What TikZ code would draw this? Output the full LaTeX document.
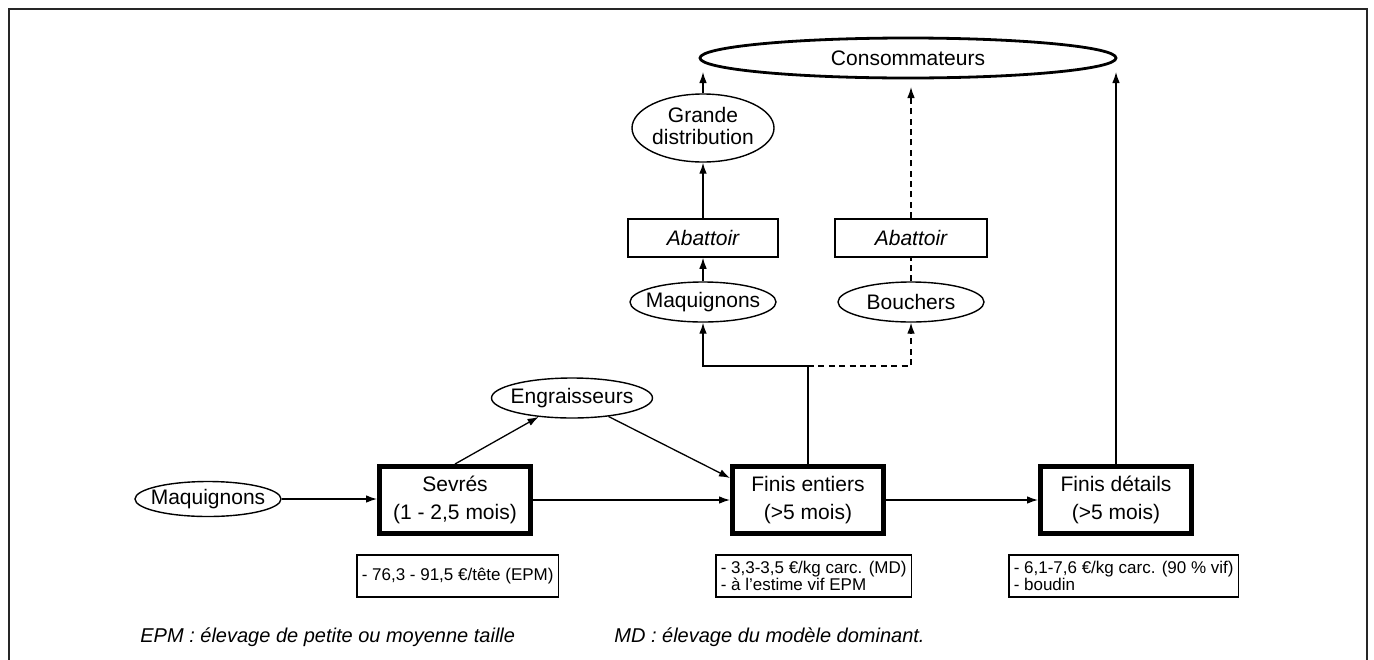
\documentclass[tikz,border=0pt]{standalone}
\usepackage{fontspec}
\setmainfont{Liberation Sans}
\usetikzlibrary{shapes.geometric,arrows.meta}
\begin{document}
\begin{tikzpicture}[x=0.5pt,y=-0.5pt,
  conn/.style={line width=0.65pt,-{Latex[length=5.5pt,width=3.8pt]}},
  plain/.style={line width=0.65pt},
  dsh/.style={dash pattern=on 3pt off 2.2pt},
  oval/.style={ellipse,draw,line width=0.7pt,inner sep=0pt,minimum width=73pt,minimum height=19pt,font=\fontsize{10.5}{12.5}\selectfont},
  mainbox/.style={rectangle,draw,line width=2.5pt,inner sep=0pt,minimum width=75.5pt,minimum height=33.5pt,align=center,font=\fontsize{10.5}{14}\selectfont},
  abbox/.style={rectangle,draw,line width=0.75pt,inner sep=0pt,minimum width=75pt,minimum height=19pt,font=\fontsize{10.5}{12.5}\selectfont\itshape},
  pricebox/.style={rectangle,draw,line width=0.75pt,inner xsep=2.5pt,inner ysep=0pt,minimum height=21pt,align=left,anchor=west,font=\fontsize{8.5}{8.8}\selectfont},
  foot/.style={anchor=west,inner sep=0pt,font=\fontsize{10}{12}\selectfont\itshape}
]
\useasboundingbox (0,0) rectangle (1374,659);
\draw[line width=1pt,black!85] (9,664) -- (9,9) -- (1367,9) -- (1367,664);

% nodes
\node[oval,line width=1.4pt,minimum width=208pt,minimum height=20pt] (cons) at (908,58) {\makebox[0pt]{Consommateurs}};
\node[oval,minimum width=71pt,minimum height=34pt] (gd) at (703,128) {\makebox[0pt]{\begin{tabular}{@{}c@{}}Grande\\[-1.5pt]distribution\end{tabular}}};
\node[abbox] (ab1) at (703,238) {Abattoir};
\node[abbox,minimum width=76pt] (ab2) at (911,238) {Abattoir};
\node[oval,minimum height=20pt] (maq2) at (703,302) {\makebox[0pt]{Maquignons}};
\node[oval,minimum height=20pt] (bouch) at (911,302) {\makebox[0pt]{Bouchers}};
\node[oval,minimum width=80.5pt,minimum height=20pt] (engr) at (572,398) {\makebox[0pt]{Engraisseurs}};
\node[oval,minimum height=17.5pt] (maq1) at (208,499) {\makebox[0pt]{Maquignons}};
\node[mainbox] (sev) at (455,500) {Sevrés\\(1 - 2,5 mois)};
\node[mainbox] (fent) at (808,500) {Finis entiers\\(>5 mois)};
\node[mainbox] (fdet) at (1116,500) {Finis détails\\(>5 mois)};
\node[pricebox] (p1) at (356,576) {- 76,3 - 91,5 €/tête (EPM)};
\node[pricebox] (p2) at (715,576) {- 3,3-3,5 €/kg carc. (MD)\\- à l'estime vif EPM};
\node[pricebox] (p3) at (1008,576) {- 6,1-7,6 €/kg carc. (90 \% vif)\\- boudin};
\node[foot] (f1) at (140,637) {EPM : élevage de petite ou moyenne taille};
\node[foot] (f2) at (614,637) {MD : élevage du modèle dominant.};

\coordinate (j) at (808,366);
\coordinate (cl) at (703,72);
\coordinate (cm) at (911,87);
\coordinate (cr) at (1116,72);
\coordinate (fin) at ([yshift=11pt]fent.west);

% connectors
\draw[conn] (maq1.east) -- (sev.west |- maq1.east);
\draw[conn] (sev) -- (fent);
\draw[conn] (fent) -- (fdet);
\draw[conn] (sev.north) -- (engr);
\draw[conn] (engr) -- (fin);
\draw[plain] (fent.north) -- (j);
\draw[conn] (j) -| (maq2.south);
\draw[conn,dsh] (j) -| (bouch.south);
\draw[conn] (maq2) -- (ab1);
\draw[conn] (ab1) -- (gd);
\draw[conn] (gd) -- (cl);
\draw[plain,dsh] (bouch) -- (ab2);
\draw[conn,dsh] (ab2) -- (cm);
\draw[conn] (fdet.north) -- (cr);
\end{tikzpicture}
\end{document}
